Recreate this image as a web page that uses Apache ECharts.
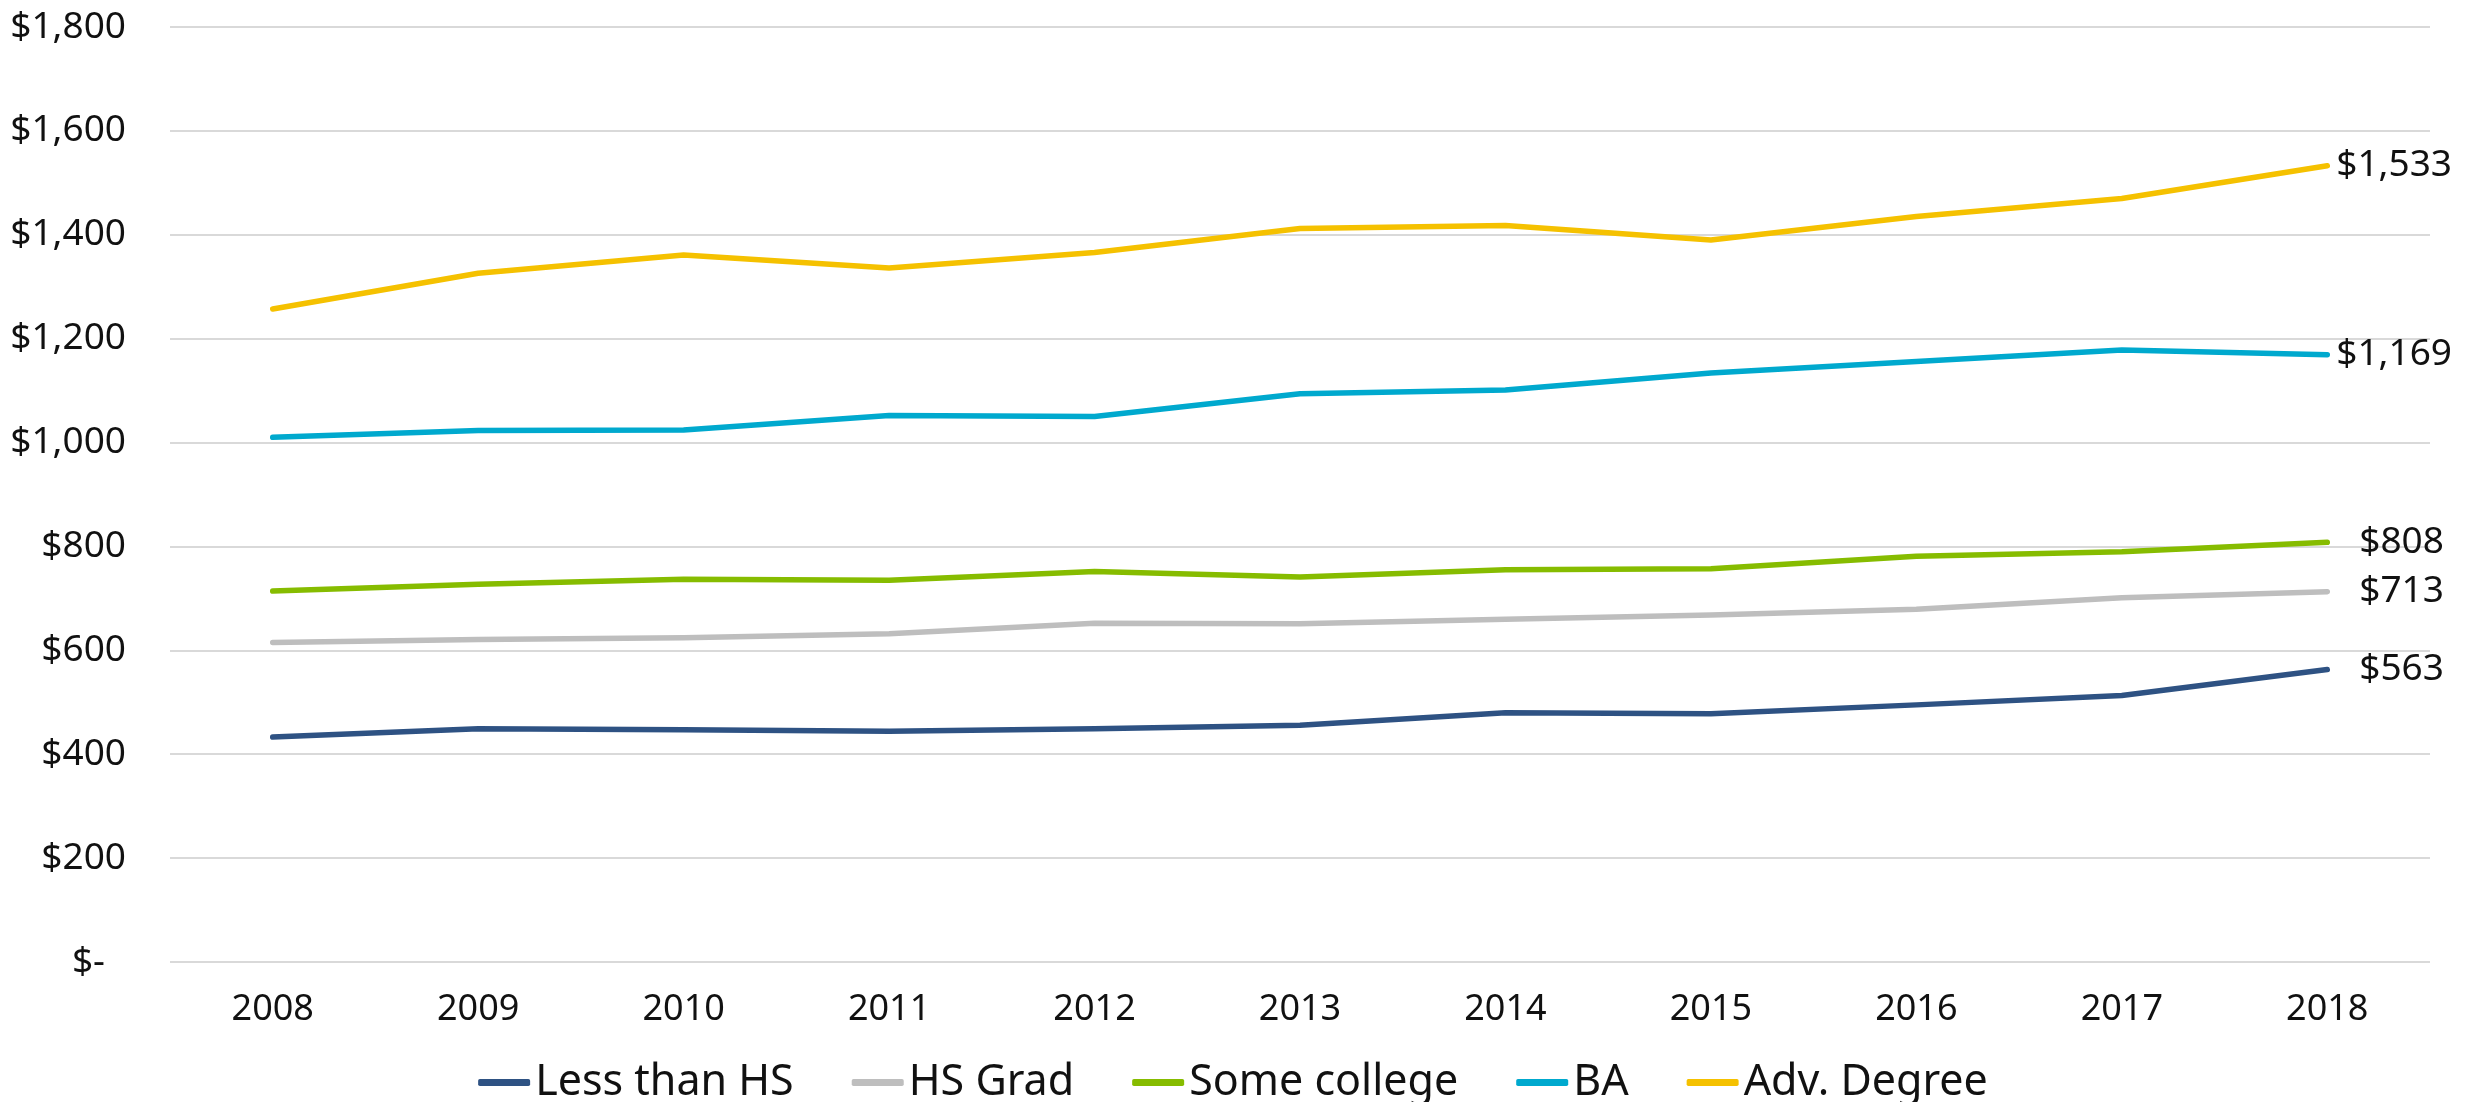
<!DOCTYPE html>
<html>
<head>
<meta charset="utf-8">
<script src="https://cdn.jsdelivr.net/npm/echarts@6/dist/echarts.min.js"></script>
<style>
  html, body { margin: 0; padding: 0; background: #fff; }
  #chart { width: 2466px; height: 1102px; }
</style>
</head>
<body>
<div id="chart"></div>
<script>
const years = ["2008", "2009", "2010", "2011", "2012", "2013", "2014", "2015", "2016", "2017", "2018"];

const lessThanHS = [433, 449, 447, 444, 449, 456, 480, 478, 495, 513, 563];
const hsGrad = [615, 621, 624, 632, 652, 651, 660, 668, 679, 701, 713];
const someCollege = [714, 727, 737, 735, 752, 741, 755, 757, 781, 790, 808];
const ba = [1010, 1023, 1024, 1052, 1050, 1094, 1101, 1134, 1156, 1178, 1169];
const advDegree = [1257, 1326, 1361, 1336, 1366, 1412, 1418, 1390, 1435, 1470, 1533];

const yTicks = [0, 200, 400, 600, 800, 1000, 1200, 1400, 1600, 1800];

const FONT = "Noto Sans";
const TEXT_COLOR = "#111";
const GRID_COLOR = "#D9D9D9";

const money = v => "$" + v.toLocaleString("en-US");

function makeSeries(name, data, color, labelGap) {
  return {
    name: name,
    type: "line",
    data: data,
    symbol: "none",
    smooth: false,
    lineStyle: { color: color, width: 5.5, cap: "round", join: "round" },
    itemStyle: { color: color },
    endLabel: {
      show: true,
      distance: labelGap,
      formatter: p => money(p.value),
      color: TEXT_COLOR,
      fontFamily: FONT,
      fontSize: 37
    }
  };
}

const chart = echarts.init(document.getElementById("chart"));

const option = {
  animation: false,
  backgroundColor: "#fff",
  textStyle: { fontFamily: FONT },
  grid: {
    left: 170,
    right: 36,
    top: 27,
    bottom: 140,
    containLabel: false
  },
  legend: {
    top: 1056,
    left: "center",
    icon: "roundRect",
    itemWidth: 52,
    itemHeight: 7,
    itemGap: 58,
    textStyle: { color: TEXT_COLOR, fontFamily: FONT, fontSize: 43 },
    data: ["Less than HS", "HS Grad", "Some college", "BA", "Adv. Degree"]
  },
  xAxis: {
    type: "category",
    data: years,
    boundaryGap: true,
    axisLine: { show: false },
    axisTick: { show: false },
    axisLabel: {
      margin: 30,
      color: TEXT_COLOR,
      fontFamily: FONT,
      fontSize: 36
    }
  },
  yAxis: {
    type: "value",
    min: yTicks[0],
    max: yTicks[yTicks.length - 1],
    interval: 200,
    axisLine: { show: false },
    axisTick: { show: false },
    splitLine: { show: true, lineStyle: { color: GRID_COLOR, width: 2 } },
    axisLabel: {
      margin: 44,
      color: TEXT_COLOR,
      fontFamily: FONT,
      fontSize: 37,
      // accounting style: zero shows as "$-"
      formatter: v => (v === 0 ? "{z|$-}" : money(v)),
      rich: {
        z: { fontFamily: FONT, fontSize: 37, color: TEXT_COLOR, padding: [0, 21, 0, 0] }
      }
    }
  },
  series: [
    makeSeries("Less than HS", lessThanHS, "#2E5283", 32),
    makeSeries("HS Grad", hsGrad, "#BEBEBE", 32),
    makeSeries("Some college", someCollege, "#86BC00", 32),
    makeSeries("BA", ba, "#00A9CE", 9),
    makeSeries("Adv. Degree", advDegree, "#F5C100", 9)
  ]
};

chart.setOption(option);
</script>
</body>
</html>
